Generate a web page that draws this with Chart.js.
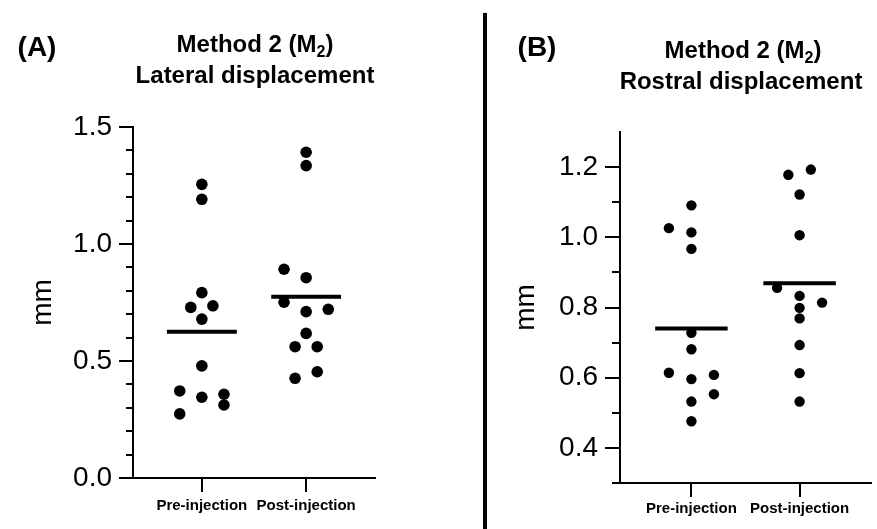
<!DOCTYPE html>
<html>
<head>
<meta charset="utf-8">
<title>Method 2 (M2) - lateral and rostral displacement</title>
<script src="https://cdn.jsdelivr.net/npm/chart.js@4.4.1/dist/chart.umd.min.js"></script>
<style>
  body { margin: 0; background: #fff; font-family: 'Liberation Sans', Arial, sans-serif; }
  #page { position: relative; width: 877px; height: 529px; overflow: hidden; background: #fff; }
  canvas { position: absolute; top: 0; }
  .txt { position: absolute; color: #000; font-weight: bold; white-space: nowrap; line-height: 1; transform: translateX(-50%); }
  .title { font-size: 24px; }
  .panel { font-size: 28px; }
  .txt sub { font-size: 16px; vertical-align: -5px; line-height: 0; }
  #divider { position: absolute; left: 483px; top: 13px; width: 4px; height: 516px; background: #000; }
</style>
</head>
<body>
<div id="page">
  <canvas id="chartA" width="440" height="529" style="left:0px;width:440px;height:529px"></canvas>
  <canvas id="chartB" width="437" height="529" style="left:440px;width:437px;height:529px"></canvas>
  <div id="divider"></div>
  <div class="txt panel" style="left:37px;top:33px">(A)</div>
  <div class="txt title" style="left:255px;top:32px">Method 2 (M<sub>2</sub>)</div>
  <div class="txt title" style="left:255px;top:63px">Lateral displacement</div>
  <div class="txt panel" style="left:537px;top:33px">(B)</div>
  <div class="txt title" style="left:743px;top:38px">Method 2 (M<sub>2</sub>)</div>
  <div class="txt title" style="left:741px;top:69px">Rostral displacement</div>
</div>
<script>
const categories = ['Pre-injection', 'Post-injection'];

// (A) lateral displacement, mm  (Col = jitter column of each dot, -2..2)
const lateralPre = [1.255, 1.191, 0.792, 0.729, 0.736, 0.679, 0.479, 0.372, 0.345, 0.358, 0.312, 0.274];
const lateralPreCol = [0, 0, 0, -1, 1, 0, 0, -2, 0, 2, 2, -2];
const lateralPost = [1.392, 1.335, 0.892, 0.856, 0.751, 0.711, 0.721, 0.618, 0.561, 0.561, 0.454, 0.426];
const lateralPostCol = [0, 0, -2, 0, -2, 0, 2, 0, -1, 1, 1, -1];
const lateralMeans = [0.625, 0.775];
const lateralTicks = [0, 0.5, 1.0, 1.5];
const lateralMinorTicks = [0.1, 0.2, 0.3, 0.4, 0.6, 0.7, 0.8, 0.9, 1.1, 1.2, 1.3, 1.4];

// (B) rostral displacement, mm
const rostralPre = [1.091, 1.026, 1.014, 0.967, 0.728, 0.681, 0.614, 0.596, 0.608, 0.553, 0.532, 0.476];
const rostralPreCol = [0, -2, 0, 0, 0, 0, -2, 0, 2, 2, 0, 0];
const rostralPost = [1.178, 1.193, 1.122, 1.006, 0.856, 0.833, 0.799, 0.814, 0.769, 0.693, 0.613, 0.532];
const rostralPostCol = [-1, 1, 0, 0, -2, 0, 0, 2, 0, 0, 0, 0];
const rostralMeans = [0.740, 0.869];
const rostralTicks = [0.4, 0.6, 0.8, 1.0, 1.2];
const rostralMinorTicks = [0.3, 0.5, 0.7, 0.9, 1.1];

const FONT = "'Liberation Sans', Arial, sans-serif";
const meanHalf = 0.335;

// short unlabelled ticks between the labelled ones
const minorTicks = {
    id: 'minorTicks',
    afterDraw(chart, args, opts) {
        const y = chart.scales.y;
        const left = chart.chartArea.left;
        const ctx = chart.ctx;
        ctx.save();
        ctx.strokeStyle = '#000';
        ctx.lineWidth = 2;
        opts.values.forEach(v => {
            const py = Math.round(y.getPixelForValue(v));
            ctx.beginPath();
            ctx.moveTo(left - opts.length, py);
            ctx.lineTo(left, py);
            ctx.stroke();
        });
        ctx.restore();
    }
};

function buildDatasets(pre, preCol, post, postCol, means, colStep, radius) {
    const groups = [[pre, preCol], [post, postCol]];
    const sets = groups.map(([vals, cols], i) => ({
        type: 'scatter',
        order: 1,
        data: vals.map((v, j) => ({ x: i + 1 + cols[j] * colStep, y: v })),
        backgroundColor: '#000',
        borderWidth: 0,
        pointRadius: radius,
        pointHoverRadius: radius
    }));
    means.forEach((m, i) => {
        sets.push({
            type: 'line',
            order: 0,
            data: [{ x: i + 1 - meanHalf, y: m }, { x: i + 1 + meanHalf, y: m }],
            borderColor: '#000',
            borderWidth: 4,
            borderCapStyle: 'butt',
            pointRadius: 0
        });
    });
    return sets;
}

function makeChart(id, p) {
    const ctx = document.getElementById(id).getContext('2d');
    return new Chart(ctx, {
        type: 'scatter',
        data: { datasets: buildDatasets(p.pre, p.preCol, p.post, p.postCol, p.means, p.colStep, p.radius) },
        options: {
            responsive: false,
            animation: false,
            events: [],
            layout: { padding: p.padding },
            plugins: {
                legend: { display: false },
                tooltip: { enabled: false },
                minorTicks: { values: p.minor, length: p.minorLen }
            },
            scales: {
                x: {
                    type: 'linear',
                    min: 0.34,
                    max: 2.66,
                    afterBuildTicks: s => { s.ticks = categories.map((c, i) => ({ value: i + 1 })); },
                    afterFit: s => { s.height = p.xHeight; },
                    ticks: {
                        callback: (v, i) => categories[i],
                        autoSkip: false,
                        maxRotation: 0,
                        padding: p.xPad,
                        color: '#000',
                        font: { family: FONT, size: 15, weight: 'bold' }
                    },
                    grid: { drawOnChartArea: false, tickLength: 14, tickWidth: 2, tickColor: '#000', lineWidth: 2 },
                    border: { color: '#000', width: 2 }
                },
                y: {
                    min: p.yMin,
                    max: p.yMax,
                    afterBuildTicks: s => { s.ticks = p.ticks.map(v => ({ value: v })); },
                    afterFit: s => { s.width = p.yWidth; },
                    ticks: {
                        callback: v => v.toFixed(1),
                        padding: 7,
                        color: '#000',
                        font: { family: FONT, size: 28 }
                    },
                    grid: { drawOnChartArea: false, tickLength: p.majorLen, tickWidth: 2, tickColor: '#000', lineWidth: 2 },
                    border: { color: '#000', width: 2 },
                    title: {
                        display: true,
                        text: 'mm',
                        color: '#000',
                        font: { family: FONT, size: 28 },
                        padding: { top: p.titlePad, bottom: 0 }
                    }
                }
            }
        },
        plugins: [minorTicks]
    });
}

makeChart('chartA', {
    pre: lateralPre, preCol: lateralPreCol, post: lateralPost, postCol: lateralPostCol,
    means: lateralMeans, ticks: lateralTicks, minor: lateralMinorTicks,
    yMin: 0, yMax: 1.5, colStep: 0.106, radius: 5.8,
    padding: { left: 10, top: 127, right: 65, bottom: 0 },
    yWidth: 123, xHeight: 51, xPad: 5, majorLen: 14, minorLen: 7, titlePad: 16
});

makeChart('chartB', {
    pre: rostralPre, preCol: rostralPreCol, post: rostralPost, postCol: rostralPostCol,
    means: rostralMeans, ticks: rostralTicks, minor: rostralMinorTicks,
    yMin: 0.3, yMax: 1.3, colStep: 0.104, radius: 5.2,
    padding: { left: 55, top: 132, right: 6, bottom: 0 },
    yWidth: 125, xHeight: 46, xPad: 3, majorLen: 15, minorLen: 8, titlePad: 14
});
</script>
</body>
</html>
